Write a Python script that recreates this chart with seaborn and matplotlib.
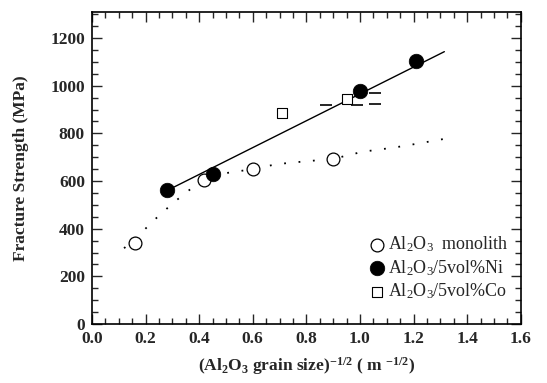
import numpy as np
import pandas as pd
import matplotlib
matplotlib.use("Agg")
import matplotlib.pyplot as plt
from matplotlib.ticker import MultipleLocator
import seaborn as sns

# data
mono_x = [0.16, 0.42, 0.60, 0.90]
mono_y = [340, 605, 650, 693]
ni_x = [0.28, 0.45, 1.00, 1.21]
ni_y = [562, 629, 977, 1105]
co_x = [0.71, 0.95]
co_y = [885, 945]
co_bar_x = [0.873, 0.99, 1.058, 1.058]
co_bar_y = [918, 918, 970, 922]

# trend lines drawn in the figure
ni_fit_x = [0.28, 1.315]
ni_fit_y = [560, 1143]
mono_trend_x = [0.12, 0.19, 0.23, 0.30, 0.35, 0.40, 0.45, 0.60, 0.69, 0.79, 0.90, 1.01, 1.13, 1.22, 1.33]
mono_trend_y = [318, 389, 434, 505, 551, 593, 625, 650, 671, 682, 693, 723, 741, 758, 780]

sns.set_style("ticks")
plt.rcParams["font.family"] = ["Liberation Serif", "DejaVu Serif"]
plt.rcParams["mathtext.default"] = "regular"

fig = plt.figure(figsize=(5.47, 3.83), dpi=100)
ax = fig.add_axes([0.168, 0.154, 0.784, 0.815])

sns.lineplot(x=mono_trend_x, y=mono_trend_y, ax=ax, color="black",
             linestyle=(0, (1, 7)), linewidth=1.3, sort=False)
sns.lineplot(x=ni_fit_x, y=ni_fit_y, ax=ax, color="black", linewidth=1.0)

ax.plot(co_bar_x, co_bar_y, linestyle="none", marker="_", markersize=9,
        markeredgewidth=1.2, color="black")

sns.scatterplot(x=mono_x, y=mono_y, ax=ax, marker="o", s=85,
                facecolor="white", edgecolor="black", linewidth=0.9,
                label=r"Al$_2$O$_3$  monolith", zorder=3)
sns.scatterplot(x=co_x, y=co_y, ax=ax, marker="s", s=55,
                facecolor="white", edgecolor="black", linewidth=0.8,
                label=r"Al$_2$O$_3$/5vol%Co", zorder=3)
sns.scatterplot(x=ni_x, y=ni_y, ax=ax, marker="o", s=110,
                color="black", edgecolor="black", linewidth=0.5,
                label=r"Al$_2$O$_3$/5vol%Ni", zorder=4)

ax.set_xlim(0, 1.6)
ax.set_ylim(0, 1310)
ax.xaxis.set_major_locator(MultipleLocator(0.2))
ax.xaxis.set_minor_locator(MultipleLocator(0.05))
ax.yaxis.set_major_locator(MultipleLocator(200))
ax.yaxis.set_minor_locator(MultipleLocator(50))
ax.xaxis.set_major_formatter(matplotlib.ticker.FormatStrFormatter("%.1f"))
ax.tick_params(which="both", direction="in", top=True, right=True, width=1.0)
ax.tick_params(which="major", length=7, labelsize=12.5, pad=5)
ax.tick_params(which="minor", length=4)
for lab in ax.get_xticklabels() + ax.get_yticklabels():
    lab.set_fontweight("bold")
for sp in ax.spines.values():
    sp.set_linewidth(1.2)
    sp.set_color("black")

ax.set_ylabel("Fracture Strength (MPa)", fontsize=12.5, fontweight="bold", labelpad=15)
ax.set_xlabel(r"(Al$_2$O$_3$ grain size)$^{-1/2}$ ( m $^{-1/2}$)",
              fontsize=12.5, fontweight="bold", labelpad=6)

handles, labels = ax.get_legend_handles_labels()
order = [0, 2, 1]
ax.legend([handles[i] for i in order], [labels[i] for i in order],
          loc="lower right", bbox_to_anchor=(0.985, 0.055), frameon=False,
          fontsize=13, handletextpad=0.05, labelspacing=0.22, borderaxespad=0.2,
          handlelength=1.2, borderpad=0.1)

fig.savefig("out.png", dpi=100)
